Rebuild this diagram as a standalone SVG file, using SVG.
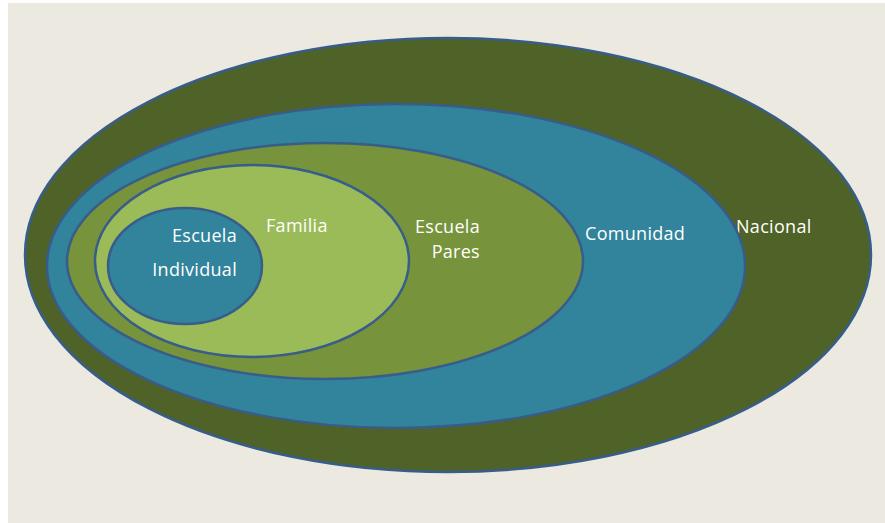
<svg xmlns="http://www.w3.org/2000/svg" width="885" height="523" viewBox="0 0 885 523">
<style>
.e{stroke:#385D8A;stroke-width:2.5}
.t{font-family:"Open Sans","Noto Sans",sans-serif;font-size:18px;letter-spacing:0.3px;fill:#FFFFFF}
</style>
<rect x="0" y="0" width="885" height="523" fill="#FFFFFF"/>
<rect x="8" y="3" width="877" height="520" fill="#ECEAE0"/>
<g id="nacional">
<ellipse class="e" cx="448" cy="255" rx="423" ry="217" fill="#4F6228"/>
<text class="t" x="736" y="233">Nacional</text>
</g>
<g id="comunidad">
<ellipse class="e" cx="396" cy="266" rx="349" ry="162" fill="#31849B"/>
<text class="t" x="585" y="240">Comunidad</text>
</g>
<g id="escuela-pares">
<ellipse class="e" cx="325" cy="261" rx="258" ry="118" fill="#77933C"/>
<text class="t" x="480" y="233" text-anchor="end">Escuela</text>
<text class="t" x="480" y="258" text-anchor="end">Pares</text>
</g>
<g id="familia">
<ellipse class="e" cx="252" cy="261" rx="157" ry="96" fill="#9BBB59"/>
<text class="t" x="266" y="232">Familia</text>
</g>
<g id="escuela-individual">
<ellipse class="e" cx="185" cy="266" rx="77" ry="58" fill="#31849B"/>
<text class="t" x="237" y="242" text-anchor="end">Escuela</text>
<text class="t" x="237" y="276" text-anchor="end">Individual</text>
</g>
<g id="connectors"></g>
</svg>
